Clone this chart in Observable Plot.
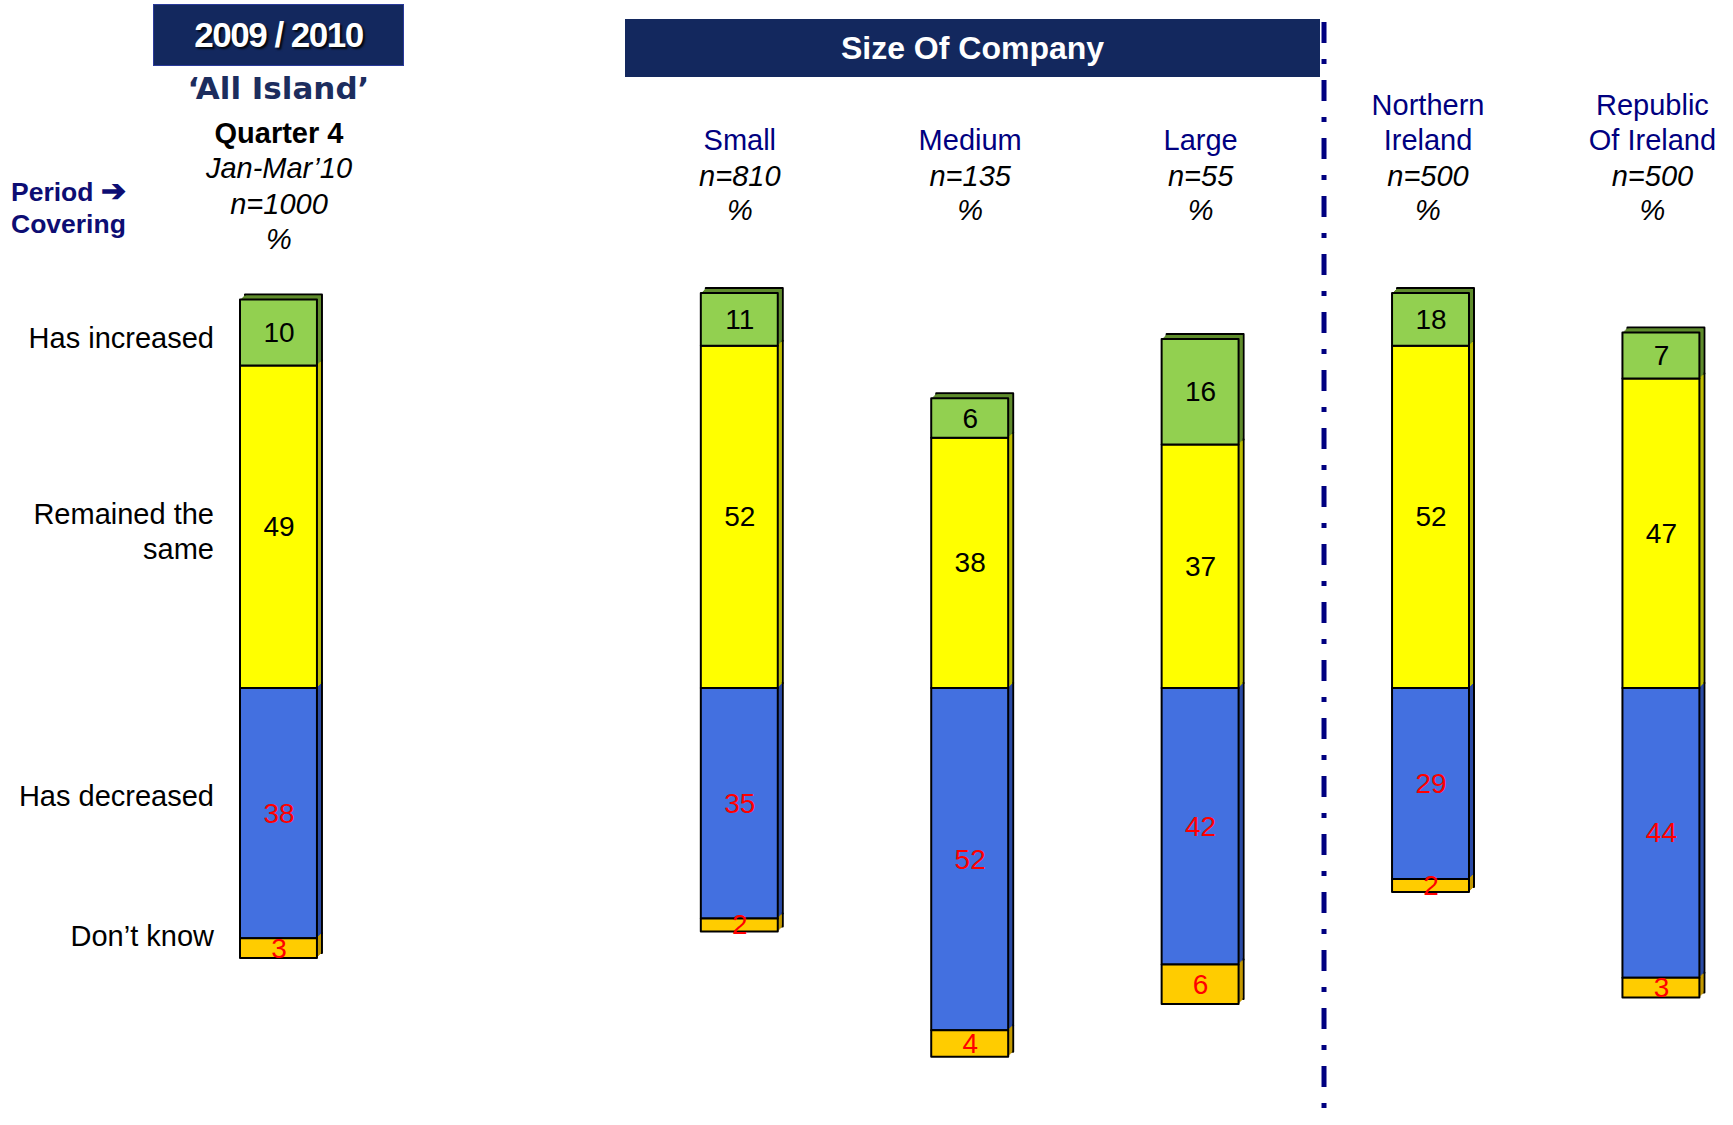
<!DOCTYPE html>
<html>
<head>
<meta charset="utf-8">
<script src="https://cdn.jsdelivr.net/npm/d3@7"></script>
<script src="https://cdn.jsdelivr.net/npm/@observablehq/plot@0.6"></script>
<style>
  body { margin: 0; background: #fff; }
  #wrap { position: relative; width: 1733px; height: 1125px; overflow: hidden; font-family: "Liberation Sans", Arial, sans-serif; }
  #chart { position: absolute; left: 0; top: 0; }
  .box { position: absolute; background: #13285e; color: #fff; font-weight: bold; display: flex; align-items: center; justify-content: center; box-sizing: border-box; }
  .abs { position: absolute; white-space: nowrap; }
</style>
</head>
<body>
<div id="wrap">
  <div id="chart"></div>
  <div class="box" style="left:153px;top:4px;width:251px;height:62px;font-size:35px;letter-spacing:-1.5px;border:1.5px solid #2a3a9a;text-shadow:2px 2px 2px rgba(0,0,0,0.85);">2009 / 2010</div>
  <div class="abs" style="left:143px;top:68px;width:271px;text-align:center;font-family:'DejaVu Sans',Verdana,sans-serif;font-weight:bold;font-size:31px;line-height:40px;color:#1c2d5e;">‘All Island’</div>
  <div class="abs" style="left:11px;top:175px;font-weight:bold;font-size:26.5px;line-height:32px;color:#0d0d73;">Period <span style="font-size:30px">➔</span><br>Covering</div>
  <div class="box" style="left:625px;top:19px;width:695px;height:58px;font-size:32px;">Size Of Company</div>
</div>
<script>
// ---- data ----
const columns = ["All Island", "Small", "Medium", "Large", "Northern Ireland", "Republic Of Ireland"];
const columnNames = [["Quarter 4"], ["Small"], ["Medium"], ["Large"], ["Northern", "Ireland"], ["Republic", "Of Ireland"]];
const periodCovering = "Jan-Mar’10";
const sampleSizes = ["n=1000", "n=810", "n=135", "n=55", "n=500", "n=500"];
const unitLabel = "%";
const responses = ["Has increased", "Remained the same", "Has decreased", "Don’t know"];
const hasIncreased = [10, 11, 6, 16, 18, 7];
const remainedSame = [49, 52, 38, 37, 52, 47];
const hasDecreased = [38, 35, 52, 42, 29, 44];
const dontKnow = [3, 2, 4, 6, 2, 3];

// ---- layout helpers ----
const GAP = " ";
const xDomain = [columns[0], GAP, ...columns.slice(1)];
const Y_MAX = 60;   // visible top of the plotting area (bars are cut there)
const frontColor = {
  [responses[0]]: "#92d050",
  [responses[1]]: "#ffff00",
  [responses[2]]: "#4370e0",
  [responses[3]]: "#ffcc00"
};
const backColor = {
  [responses[0]]: "#5f8c2c",
  [responses[1]]: "#bdbd00",
  [responses[2]]: "#2b4ba6",
  [responses[3]]: "#c49a00"
};

const segs = [];
columns.forEach((c, i) => {
  const s = remainedSame[i], inc = hasIncreased[i], dec = hasDecreased[i], dk = dontKnow[i];
  segs.push({col: c, resp: responses[1], value: s, y1: 0, y2: Math.min(s, Y_MAX)});
  segs.push({col: c, resp: responses[0], value: inc, y1: Math.min(s, Y_MAX), y2: Math.min(s + inc, Y_MAX)});
  segs.push({col: c, resp: responses[2], value: dec, y1: 0, y2: -dec});
  segs.push({col: c, resp: responses[3], value: dk, y1: -dec, y2: -dec - dk});
});
const mid = d => (d.y1 + d.y2) / 2;

const FONT = "Liberation Sans";
const DEPTH = 5;
const barBase = {x: "col", y1: "y1", y2: "y2"};
const marks = [];
// 3D extrusion: back face with outline, then filler layers, then front face
marks.push(Plot.barY(segs, {...barBase, fill: d => backColor[d.resp], stroke: "#000", strokeWidth: 2, strokeLinejoin: "round", dx: DEPTH, dy: -DEPTH}));
for (let k = DEPTH - 1; k >= 1; k--) {
  marks.push(Plot.barY(segs, {...barBase, fill: d => backColor[d.resp], dx: k, dy: -k}));
}
marks.push(Plot.barY(segs, {...barBase, fill: d => frontColor[d.resp], stroke: "#000", strokeWidth: 2, strokeLinejoin: "round"}));

// value labels
marks.push(Plot.text(segs, {x: "col", y: mid, text: d => String(d.value), fill: d => d.y2 < 0 ? "#ff0000" : "#000000", fontSize: 28, fontFamily: FONT}));

// row labels, placed beside the first column's segments
const rowDy = [4, 3, -19, -14];
responses.forEach((r, k) => {
  marks.push(Plot.text(segs.filter(d => d.col === columns[0] && d.resp === r), {
    x: "col", y: mid, text: d => d.resp, textAnchor: "end", dx: -65, dy: rowDy[k],
    fontSize: 29, lineWidth: 7.2, lineHeight: 1.22, fill: "#000", fontFamily: FONT
  }));
});

// column headers
const topY = 293;
const hdr = {x: "col", frameAnchor: "top", lineAnchor: "middle", fontSize: 29, fontFamily: FONT};
const headerShift = {[columns[4]]: -3, [columns[5]]: -9};
const nameLines = columns.slice(1).flatMap((c, j) => columnNames[j + 1].map((t, li, arr) => ({col: c, text: t, fromEnd: arr.length - 1 - li})));
const restCols = columns.slice(1).map((c, j) => ({col: c, n: sampleSizes[j + 1]}));
[0, -3, -9].forEach(shift => {
  const pick = d => (headerShift[d.col] || 0) === shift;
  [0, 1].forEach(fe => {
    marks.push(Plot.text(nameLines.filter(d => d.fromEnd === fe && pick(d)), {...hdr, text: "text", dx: shift, dy: 140 - 35 * fe - topY, fill: "#000080"}));
  });
  marks.push(Plot.text(restCols.filter(pick), {...hdr, text: "n", dx: shift, dy: 176 - topY, fill: "#000", fontStyle: "italic"}));
  marks.push(Plot.text(restCols.filter(pick), {...hdr, text: () => unitLabel, dx: shift, dy: 210 - topY, fill: "#000", fontStyle: "italic"}));
});
// first column header
const firstCol = [{col: columns[0]}];
marks.push(Plot.text(firstCol, {...hdr, text: () => columnNames[0][0], dy: 133 - topY, fill: "#000", fontWeight: "bold"}));
marks.push(Plot.text(firstCol, {...hdr, text: () => periodCovering, dy: 168 - topY, fill: "#000", fontStyle: "italic"}));
marks.push(Plot.text(firstCol, {...hdr, text: () => sampleSizes[0], dy: 204 - topY, fill: "#000", fontStyle: "italic"}));
marks.push(Plot.text(firstCol, {...hdr, text: () => unitLabel, dy: 239 - topY, fill: "#000", fontStyle: "italic"}));

// dash-dot separator between company size and region
marks.push(Plot.ruleX([columns[4]], {x: d => d, dx: -107, stroke: "#000080", strokeWidth: 5, strokeDasharray: "21,16,5,16", insetTop: -271, insetBottom: -41}));

const chart = Plot.plot({
  width: 1733,
  height: 1125,
  marginLeft: 240,
  marginRight: 33.6,
  marginTop: topY,
  marginBottom: 42,
  x: {type: "band", domain: xDomain, paddingInner: 0.666, paddingOuter: 0, round: false, axis: null},
  y: {domain: [-Y_MAX, Y_MAX], axis: null},
  color: {type: "identity"},
  style: {fontFamily: FONT, background: "transparent", overflow: "visible"},
  marks
});
document.getElementById("chart").appendChild(chart);
</script>
</body>
</html>
